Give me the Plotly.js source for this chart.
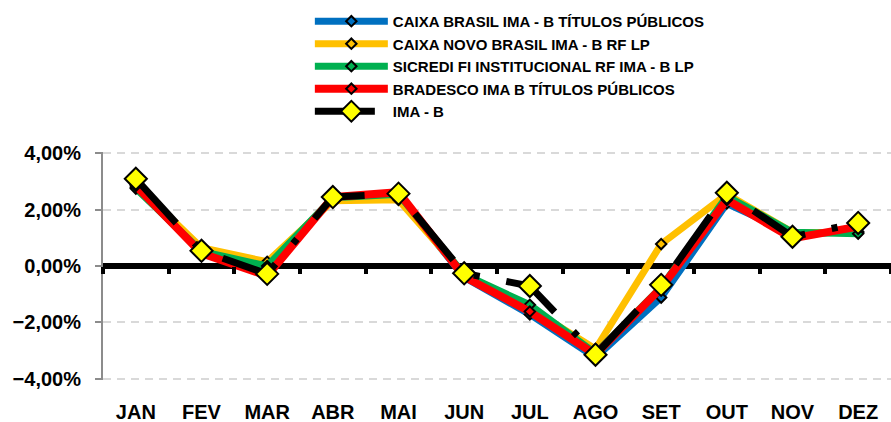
<!DOCTYPE html>
<html>
<head>
<meta charset="utf-8">
<script src="https://cdn.plot.ly/plotly-3.0.1.min.js"></script>
<style>html,body{margin:0;padding:0;background:#fff;}#chart{width:891px;height:422px;}</style>
</head>
<body>
<div id="chart"></div>
<script>
const months = ["JAN","FEV","MAR","ABR","MAI","JUN","JUL","AGO","SET","OUT","NOV","DEZ"];
const seriesNames = [
  "CAIXA BRASIL IMA - B TÍTULOS PÚBLICOS",
  "CAIXA NOVO BRASIL IMA - B RF LP",
  "SICREDI FI INSTITUCIONAL RF IMA - B LP",
  "BRADESCO IMA B TÍTULOS PÚBLICOS",
  "IMA - B"
];
const caixaBrasil = [2.80, 0.50, -0.10, 2.40, 2.50, -0.40, -1.72, -3.25, -1.12, 2.22, 1.15, 1.22];
const caixaNovo   = [2.90, 0.65, 0.15, 2.32, 2.35, -0.30, -1.50, -2.95, 0.78, 2.55, 1.20, 1.18];
const sicredi     = [2.75, 0.52, 0.00, 2.42, 2.55, -0.30, -1.38, -3.10, -0.75, 2.48, 1.20, 1.15];
const bradesco    = [2.85, 0.45, -0.35, 2.45, 2.62, -0.38, -1.62, -3.15, -0.78, 2.35, 0.98, 1.40];
const imaB        = [3.10, 0.54, -0.28, 2.45, 2.57, -0.26, -0.71, -3.15, -0.67, 2.60, 1.04, 1.53];

const font = {family: "Liberation Sans, Arial, sans-serif", color: "#000", weight: "bold"};

function fund(name, vals, color, width) {
  return {
    type: "scatter", mode: "lines+markers", name: name, x: months, y: vals,
    line: {color: color, width: width},
    marker: {symbol: "diamond", size: 8, color: color, line: {color: "#000", width: 2}}
  };
}

const traces = [
  fund(seriesNames[0], caixaBrasil, "#0070C0", 7),
  fund(seriesNames[1], caixaNovo, "#FFC000", 7),
  fund(seriesNames[2], sicredi, "#00B050", 7),
  fund(seriesNames[3], bradesco, "#FF0000", 8),
  {
    type: "scatter", mode: "lines+markers", name: seriesNames[4], x: months, y: imaB,
    xaxis: "x2",
    line: {color: "#000", width: 7, dash: "60px,27px,6px,27px"},
    marker: {symbol: "diamond", size: 17, color: "#FFFF00", line: {color: "#000", width: 2}}
  }
];

const layout = {
  width: 891, height: 422,
  margin: {l: 103, r: 0, t: 152, b: 42},
  paper_bgcolor: "#fff", plot_bgcolor: "#fff",
  separators: ",.",
  showlegend: true,
  legend: {
    x: 0.2625, y: 1.645, xanchor: "left", yanchor: "top",
    font: Object.assign({}, font, {size: 15}),
    itemwidth: 73, itemsizing: "trace", tracegroupgap: 0,
    bgcolor: "rgba(0,0,0,0)"
  },
  xaxis: {
    type: "category", categoryarray: months, range: [-0.5, 11.5],
    showline: false, showgrid: false, zeroline: false,
    ticks: "", ticklabelstandoff: 18,
    tickfont: Object.assign({}, font, {size: 20}),
    fixedrange: true
  },
  xaxis2: {
    type: "category", categoryarray: months, range: [-0.5, 11.5],
    overlaying: "x", anchor: "free", position: 0.5, side: "bottom",
    showline: false, showgrid: false, zeroline: false,
    ticks: "outside", tickson: "boundaries", ticklen: 7, tickwidth: 4, tickcolor: "#000",
    showticklabels: false
  },
  yaxis: {
    range: [-4.05, 4.05], dtick: 2, tick0: 0,
    tickformat: ".2f", ticksuffix: "%",
    showline: true, linecolor: "#8c8c8c", linewidth: 2,
    ticks: "outside", ticklen: 6, tickwidth: 2, tickcolor: "#8c8c8c",
    showgrid: true, gridcolor: "#d9d9d9", gridwidth: 2, griddash: "8px,6px",
    zeroline: true, zerolinecolor: "#000", zerolinewidth: 6,
    ticklabelstandoff: 10,
    tickfont: Object.assign({}, font, {size: 20}),
    fixedrange: true
  }
};

Plotly.newPlot("chart", traces, layout, {displayModeBar: false, staticPlot: true});
</script>
</body>
</html>
